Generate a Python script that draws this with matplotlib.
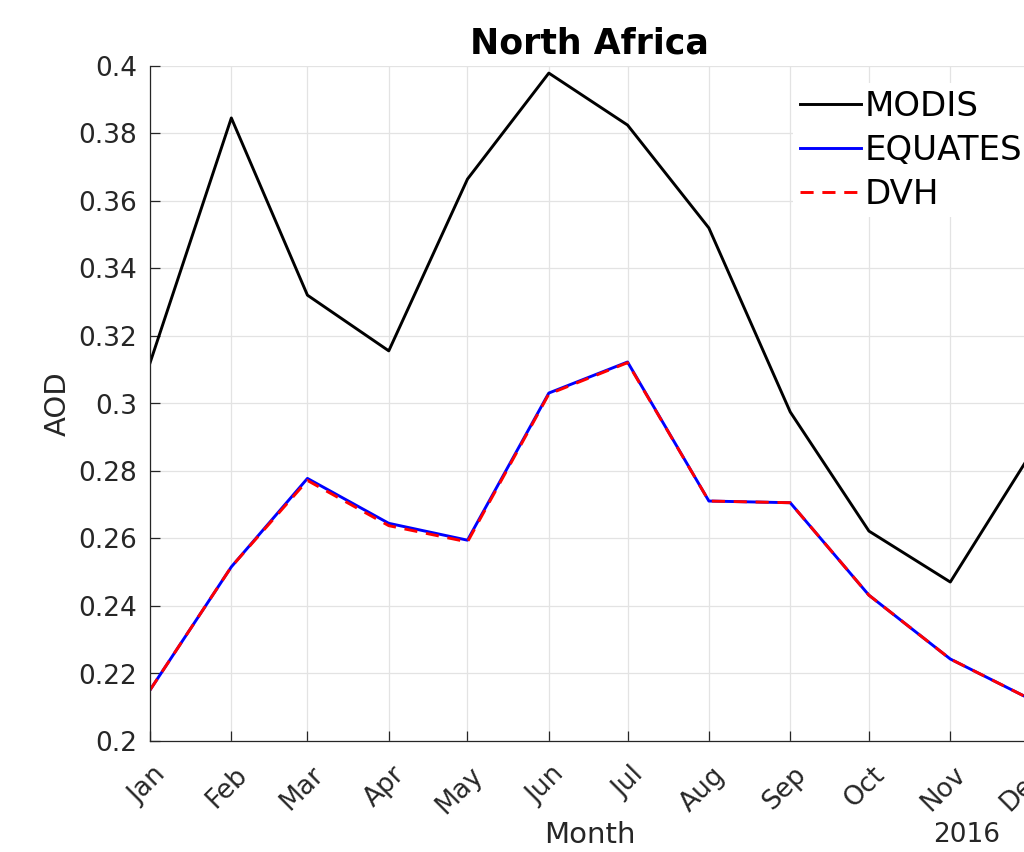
import pandas as pd
import matplotlib
matplotlib.use("Agg")
import matplotlib.pyplot as plt
import matplotlib.dates as mdates
import matplotlib.transforms as mtransforms

# Monthly mean AOD over North Africa, 2016
months = pd.date_range("2016-01-01", "2016-12-01", freq="MS")
modis = [0.312, 0.3846, 0.3321, 0.3156, 0.3665, 0.3979, 0.3825, 0.352, 0.2975, 0.2622, 0.2471, 0.2843]
equates = [0.2151, 0.2516, 0.2778, 0.2645, 0.2595, 0.3031, 0.3123, 0.2711, 0.2706, 0.2432, 0.2243, 0.2126]
dvh = [0.2151, 0.2516, 0.2772, 0.2638, 0.2590, 0.3028, 0.3121, 0.2711, 0.2706, 0.2432, 0.2243, 0.2126]

plt.rcParams['font.family'] = 'DejaVu Sans'
txt = '#262626'

fig = plt.figure(figsize=(10.24, 8.52), dpi=100)
ax = fig.add_axes([150/1024, 111/852, 879/1024, 675/852])

ax.plot(months, modis, color='black', lw=2.1, label='MODIS')
ax.plot(months, equates, color='blue', lw=2.1, label='EQUATES')
ax.plot(months, dvh, color='red', lw=2.1, ls=(0, (4.5, 3)), label='DVH')

ax.set_xlim(months[0], months[-1])
ax.set_ylim(0.2, 0.4)
ax.set_yticks([0.2, 0.22, 0.24, 0.26, 0.28, 0.3, 0.32, 0.34, 0.36, 0.38, 0.4])
ax.set_yticklabels(['0.2', '0.22', '0.24', '0.26', '0.28', '0.3', '0.32', '0.34', '0.36', '0.38', '0.4'])
ax.xaxis.set_major_locator(mdates.MonthLocator())
ax.xaxis.set_major_formatter(mdates.DateFormatter('%b'))

ax.grid(True, color='#e3e3e3', lw=0.9)
ax.set_axisbelow(True)
for s in ['top', 'right']:
    ax.spines[s].set_visible(False)
for s in ['left', 'bottom']:
    ax.spines[s].set_color(txt)
    ax.spines[s].set_linewidth(0.9)

ax.tick_params(axis='both', direction='in', length=7, width=0.9, color=txt,
               labelcolor=txt, labelsize=19)
ax.tick_params(axis='y', pad=9)
ax.tick_params(axis='x', pad=15)

# rotated month labels: top-right corner sits just right of the tick
shift = mtransforms.ScaledTranslation(21/100, 0, fig.dpi_scale_trans)
for lab in ax.get_xticklabels():
    lab.set_rotation(45)
    lab.set_ha('right')
    lab.set_va('top')
    lab.set_transform(lab.get_transform() + shift)

ax.set_title('North Africa', fontsize=25, fontweight='bold', pad=9)
ax.set_xlabel('Month', fontsize=21, color=txt)
ax.xaxis.set_label_coords(440/879, -80/675)
ax.set_ylabel('AOD', fontsize=21, color=txt, labelpad=5)
fig.text(967/1024, 1 - 835/852, '2016', fontsize=19, color=txt, ha='center', va='center')

leg = ax.legend(loc='upper left', bbox_to_anchor=(793/1024, 1 - 83/852),
                bbox_transform=fig.transFigure, fontsize=24.5, frameon=True,
                borderaxespad=0, borderpad=0.2, handlelength=1.8, handletextpad=0.1,
                labelspacing=0.32, fancybox=False)
leg.get_frame().set_edgecolor('none')
leg.get_frame().set_facecolor('white')
leg.get_frame().set_alpha(1)

fig.savefig('out.png', dpi=100)
